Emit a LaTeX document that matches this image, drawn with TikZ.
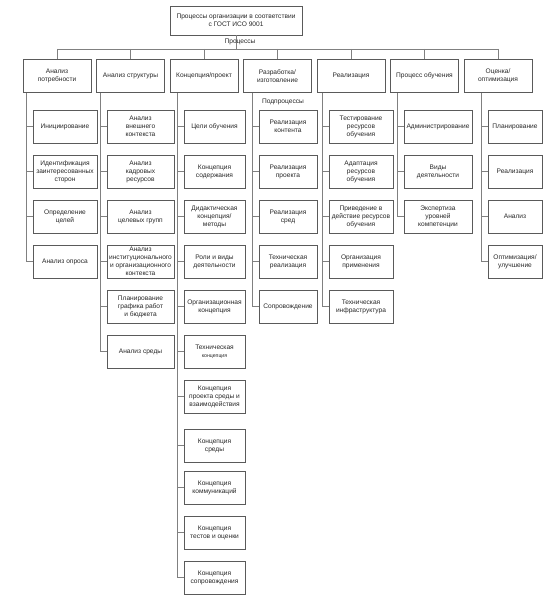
\documentclass[tikz,border=0pt]{standalone}
\usepackage{fontspec}
\setmainfont{Liberation Sans}
\usepackage{tikz}
\usetikzlibrary{positioning}
\definecolor{boxgray}{HTML}{5A5A5A}
\definecolor{linegray}{HTML}{808080}
\tikzset{
  box/.style={draw=boxgray, text=black!85, font=\fontsize{6.6}{8}\selectfont, align=center,
    minimum height=33pt, inner sep=1pt, line width=0.6pt},
  head/.style={box, minimum width=68pt},
  sub/.style={box, minimum width=#1},
  link/.style={draw=linegray, line width=0.6pt},
  tag/.style={text=black!85, font=\fontsize{6.6}{8}\selectfont, inner sep=0pt}
}
\begin{document}
\begin{tikzpicture}[x=1pt,y=-1pt,node distance=45pt,on grid]
   \useasboundingbox (0,0) rectangle (544,610);
   \node[box, minimum width=132pt, minimum height=29pt] (top) at (236,20.5)
        {Процессы организации в соответствии\\с ГОСТ ИСО 9001};
   \coordinate (bus) at (236,49);
   \draw[link] (top.south) -- (bus);
   \node[tag] (procs) at (240,42) {Процессы};

   \node[head] (p_1) at (57,76) {Анализ\\потребности};
   \node[head] (p_2) [right=73.5pt of p_1] {Анализ структуры};
   \node[head] (p_3) [right=73.5pt of p_2] {Концепция/проект};
   \node[head] (p_4) [right=73.5pt of p_3] {Разработка/\\изготовление};
   \node[head] (p_5) [right=73.5pt of p_4] {Реализация};
   \node[head] (p_6) [right=73.5pt of p_5] {Процесс обучения};
   \node[head] (p_7) [right=73.5pt of p_6] {Оценка/\\оптимизация};
   \node[tag] (subprocs) at (283,102) {Подпроцессы};

   \node[sub=64pt] (c_1_1) at (65,126.5) {Инициирование};
   \node[sub=64pt] (c_1_2) [below=of c_1_1] {Идентификация\\заинтересованных\\сторон};
   \node[sub=64pt] (c_1_3) [below=of c_1_2] {Определение\\целей};
   \node[sub=64pt] (c_1_4) [below=of c_1_3] {Анализ опроса};

   \node[sub=67pt] (c_2_1) at (140.5,126.5) {Анализ\\внешнего\\контекста};
   \node[sub=67pt] (c_2_2) [below=of c_2_1] {Анализ\\кадровых\\ресурсов};
   \node[sub=67pt] (c_2_3) [below=of c_2_2] {Анализ\\целевых групп};
   \node[sub=67pt] (c_2_4) [below=of c_2_3] {Анализ\\институционального\\и организационного\\контекста};
   \node[sub=67pt] (c_2_5) [below=of c_2_4] {Планирование\\графика работ\\и бюджета};
   \node[sub=67pt] (c_2_6) [below=of c_2_5] {Анализ среды};

   \node[sub=61pt] (c_3_1) at (214.5,126.5) {Цели обучения};
   \node[sub=61pt] (c_3_2) [below=of c_3_1] {Концепция\\содержания};
   \node[sub=61pt] (c_3_3) [below=of c_3_2] {Дидактическая\\концепция/\\методы};
   \node[sub=61pt] (c_3_4) [below=of c_3_3] {Роли и виды\\деятельности};
   \node[sub=61pt] (c_3_5) [below=of c_3_4] {Организационная\\концепция};
   \node[sub=61pt] (c_3_6) [below=of c_3_5] {Техническая\\{\fontsize{5.2}{8}\selectfont концепция}};
   \node[sub=61pt] (c_3_7) [below=of c_3_6] {Концепция\\проекта среды и\\взаимодействия};
   \node[sub=61pt] (c_3_8) [below=49pt of c_3_7] {Концепция\\среды};
   \node[sub=61pt] (c_3_9) [below=42pt of c_3_8] {Концепция\\коммуникаций};
   \node[sub=61pt] (c_3_10) [below=of c_3_9] {Концепция\\тестов и оценки};
   \node[sub=61pt] (c_3_11) [below=of c_3_10] {Концепция\\сопровождения};

   \node[sub=58pt] (c_4_1) at (288,126.5) {Реализация\\контента};
   \node[sub=58pt] (c_4_2) [below=of c_4_1] {Реализация\\проекта};
   \node[sub=58pt] (c_4_3) [below=of c_4_2] {Реализация\\сред};
   \node[sub=58pt] (c_4_4) [below=of c_4_3] {Техническая\\реализация};
   \node[sub=58pt] (c_4_5) [below=of c_4_4] {Сопровождение};

   \node[sub=64pt] (c_5_1) at (361,126.5) {Тестирование\\ресурсов\\обучения};
   \node[sub=64pt] (c_5_2) [below=of c_5_1] {Адаптация\\ресурсов\\обучения};
   \node[sub=64pt] (c_5_3) [below=of c_5_2] {Приведение в\\действие ресурсов\\обучения};
   \node[sub=64pt] (c_5_4) [below=of c_5_3] {Организация\\применения};
   \node[sub=64pt] (c_5_5) [below=of c_5_4] {Техническая\\инфраструктура};

   \node[sub=68pt] (c_6_1) at (438,126.5) {Администрирование};
   \node[sub=68pt] (c_6_2) [below=of c_6_1] {Виды\\деятельности};
   \node[sub=68pt] (c_6_3) [below=of c_6_2] {Экспертиза\\уровней\\компетенции};

   \node[sub=54pt] (c_7_1) at (515,126.5) {Планирование};
   \node[sub=54pt] (c_7_2) [below=of c_7_1] {Реализация};
   \node[sub=54pt] (c_7_3) [below=of c_7_2] {Анализ};
   \node[sub=54pt] (c_7_4) [below=of c_7_3] {Оптимизация/\\улучшение};

   \draw[link] (p_1.north |- bus) -- (p_7.north |- bus);
   \foreach \c/\n in {1/4,2/6,3/11,4/5,5/5,6/3,7/4} {
     \draw[link] (p_\c.north |- bus) -- (p_\c.north);
     \coordinate (s_\c) at ([xshift=-6pt]c_\c_1.west);
     \draw[link] (s_\c |- p_\c.south) |- (c_\c_\n.west);
     \foreach \k in {1,...,\n}
       \draw[link] (s_\c |- c_\c_\k.west) -- (c_\c_\k.west);
   }
\end{tikzpicture}
\end{document}
